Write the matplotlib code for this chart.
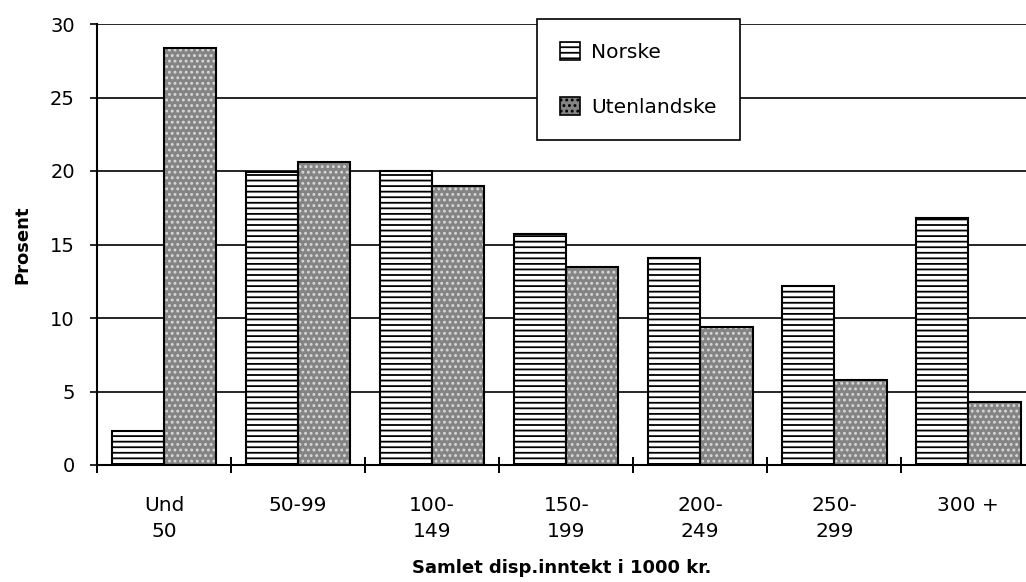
import matplotlib
matplotlib.use("Agg")
import matplotlib.pyplot as plt
from matplotlib.patches import Patch
import numpy as np

categories = ["Und\n50", "50-99", "100-\n149", "150-\n199", "200-\n249", "250-\n299", "300 +"]
norske = [2.3, 19.9, 20.0, 15.7, 14.1, 12.2, 16.8]
utenlandske = [28.4, 20.6, 19.0, 13.5, 9.4, 5.8, 4.3]
series_names = ["Norske", "Utenlandske"]
yticks = [0, 5, 10, 15, 20, 25, 30]

plt.rcParams['font.family'] = ['DejaVu Sans']
plt.rcParams['hatch.linewidth'] = 1.3

fig = plt.figure(figsize=(10.26, 5.82), dpi=100)
ax = fig.add_axes([97/1026, 1-465/582, 1-97/1026, (465-24)/582])

x = np.arange(len(categories))
w = 0.39
grey = '#848484'

ax.set_axisbelow(True)
for yv in yticks[1:]:
    ax.axhline(yv, color='black', lw=1.2, zorder=0)

# Norske: white with horizontal lines
ax.bar(x - w/2, norske, width=w, facecolor='white', edgecolor='black', hatch='---', lw=0, zorder=2)
ax.bar(x - w/2, norske, width=w, fill=False, edgecolor='black', lw=1.5, zorder=3)
# Utenlandske: grey stipple
ax.bar(x + w/2, utenlandske, width=w, facecolor=grey, edgecolor='#d8d8d8', hatch='...', lw=0, zorder=2)
ax.bar(x + w/2, utenlandske, width=w, fill=False, edgecolor='black', lw=1.5, zorder=3)

ax.set_xlim(-0.5, 6.43)
ax.set_ylim(0, 30)

for s in ['top', 'right']:
    ax.spines[s].set_visible(False)
ax.spines['left'].set_linewidth(1.5)
ax.spines['bottom'].set_linewidth(1.5)

ax.set_yticks(yticks)
ax.tick_params(axis='y', direction='out', length=5, width=1.2, labelsize=14, pad=11)

ax.set_xticks(np.arange(-0.5, 6.5, 1.0))
ax.set_xticklabels([])
ax.tick_params(axis='x', which='major', direction='inout', length=11, width=1.4)
ax.set_xticks(x, minor=True)
ax.set_xticklabels(categories, minor=True, fontsize=14.5, linespacing=1.5)
ax.tick_params(axis='x', which='minor', length=0, pad=22)

ax.set_ylabel("Prosent", fontsize=13, fontweight='bold', labelpad=13)
ax.set_xlabel("Samlet disp.inntekt i 1000 kr.", fontsize=13, fontweight='bold', labelpad=13)

handles = [Patch(facecolor='white', edgecolor='black', hatch='---', lw=1.2),
           Patch(facecolor=grey, edgecolor='black', hatch='...', lw=1.2)]
leg = fig.legend(handles, series_names, loc='upper left',
                 bbox_to_anchor=(537/1026, 1-19/582), fontsize=14.5,
                 frameon=True, fancybox=False, framealpha=1, edgecolor='black',
                 handlelength=1.0, handleheight=1.0, handletextpad=0.55,
                 labelspacing=1.75, borderpad=1.15, borderaxespad=0)
leg.get_frame().set_linewidth(1.2)
leg.set_zorder(5)

fig.savefig("out.png", dpi=100)
